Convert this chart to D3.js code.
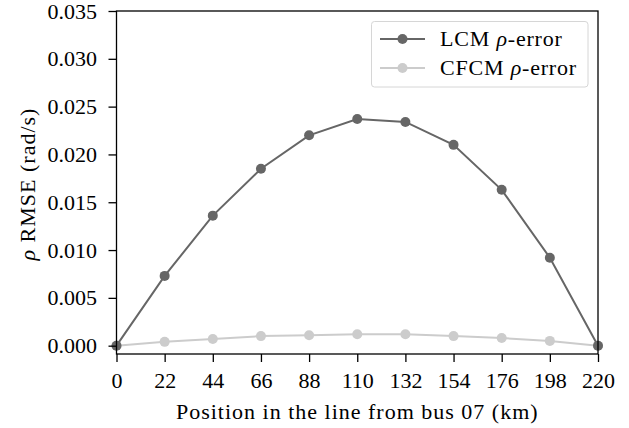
<!DOCTYPE html>
<meta charset="utf-8">
<style>
body { margin: 0; background: #fff; }
text { font-family: "Liberation Serif", "Times New Roman", serif; fill: #000; }
.axis path, .axis line { stroke: #000; stroke-width: 1.3px; }
.axis text { font-size: 22px; }
.label { font-size: 22px; letter-spacing: 1px; }
.legend-text { font-size: 22px; letter-spacing: 0.8px; }
</style>
<body>
<script src="https://d3js.org/d3.v7.min.js"></script>
<script>

// data
var positions = [0, 22, 44, 66, 88, 110, 132, 154, 176, 198, 220];
var lcmError  = [0, 0.0073, 0.0136, 0.0185, 0.0220, 0.0237, 0.0234, 0.0210, 0.0163, 0.0092, 0];
var cfcmError = [0, 0.0004, 0.0007, 0.0010, 0.0011, 0.0012, 0.0012, 0.0010, 0.0008, 0.0005, 0];
var yTicks = [0, 0.005, 0.010, 0.015, 0.020, 0.025, 0.030, 0.035];

var series = [
  {name: "LCM", values: lcmError, color: "#666666"},
  {name: "CFCM", values: cfcmError, color: "#cccccc"}
];

var W = 629, H = 428;
var margin = {top: 11, right: 31, bottom: 74, left: 116.5};
var width = W - margin.left - margin.right,
    height = H - margin.top - margin.bottom;

var x = d3.scaleLinear().domain([0, 220]).range([0, width]);
var y = d3.scaleLinear().domain([-0.00087, 0.035]).range([height, 0]);

var svg = d3.select("body").append("svg")
    .attr("width", W)
    .attr("height", H)
  .append("g")
    .attr("transform", "translate(" + margin.left + "," + margin.top + ")");

// lines + markers
var line = d3.line()
    .x(function(d, i) { return x(positions[i]); })
    .y(function(d) { return y(d); });

series.slice().reverse().forEach(function(s) {
  svg.append("path")
      .datum(s.values)
      .attr("fill", "none")
      .attr("stroke", s.color)
      .attr("stroke-width", 2)
      .attr("d", line);
  svg.selectAll(null)
      .data(s.values)
    .enter().append("circle")
      .attr("cx", function(d, i) { return x(positions[i]); })
      .attr("cy", function(d) { return y(d); })
      .attr("r", 5)
      .attr("fill", s.color);
});

// frame
svg.append("rect")
    .attr("width", width)
    .attr("height", height)
    .attr("fill", "none")
    .attr("stroke", "#000")
    .attr("stroke-width", 1.3);

// axes
svg.append("g")
    .attr("class", "axis")
    .attr("transform", "translate(0," + height + ")")
    .call(d3.axisBottom(x).tickValues(positions).tickSize(8).tickPadding(10.5).tickFormat(d3.format("d")))
    .call(function(g) { g.select(".domain").remove(); });

svg.append("g")
    .attr("class", "axis")
    .call(d3.axisLeft(y).tickValues(yTicks).tickSize(8).tickPadding(11.5).tickFormat(d3.format(".3f")))
    .call(function(g) { g.select(".domain").remove(); });

// axis labels
svg.append("text")
    .attr("class", "label")
    .attr("x", width / 2)
    .attr("y", height + 65)
    .attr("text-anchor", "middle")
    .text("Position in the line from bus 07 (km)");

var yl = svg.append("text")
    .attr("class", "label")
    .attr("transform", "translate(" + (-81.5) + "," + (height / 2 + 1.5) + ") rotate(-90)")
    .attr("text-anchor", "middle");
yl.append("tspan").style("font-style", "italic").text("ρ");
yl.append("tspan").text(" RMSE (rad/s)");

// legend
var lg = svg.append("g")
    .attr("transform", "translate(" + (371.5 - margin.left) + "," + (21.5 - margin.top) + ")");
lg.append("rect")
    .attr("width", 216.5)
    .attr("height", 65.5)
    .attr("rx", 3)
    .attr("fill", "#fff")
    .attr("fill-opacity", 0.8)
    .attr("stroke", "#d6d6d6")
    .attr("stroke-width", 1);

series.forEach(function(s, i) {
  var yy = 17.5 + i * 29;
  lg.append("line")
      .attr("x1", 8.5).attr("x2", 53.5)
      .attr("y1", yy).attr("y2", yy)
      .attr("stroke", s.color)
      .attr("stroke-width", 2);
  lg.append("circle")
      .attr("cx", 31).attr("cy", yy)
      .attr("r", 5)
      .attr("fill", s.color);
  var t = lg.append("text")
      .attr("class", "legend-text")
      .attr("x", 68.5)
      .attr("y", yy + 6.5);
  t.append("tspan").text(s.name + " ");
  t.append("tspan").style("font-style", "italic").text("ρ");
  t.append("tspan").text("-error");
});

</script>
</body>
